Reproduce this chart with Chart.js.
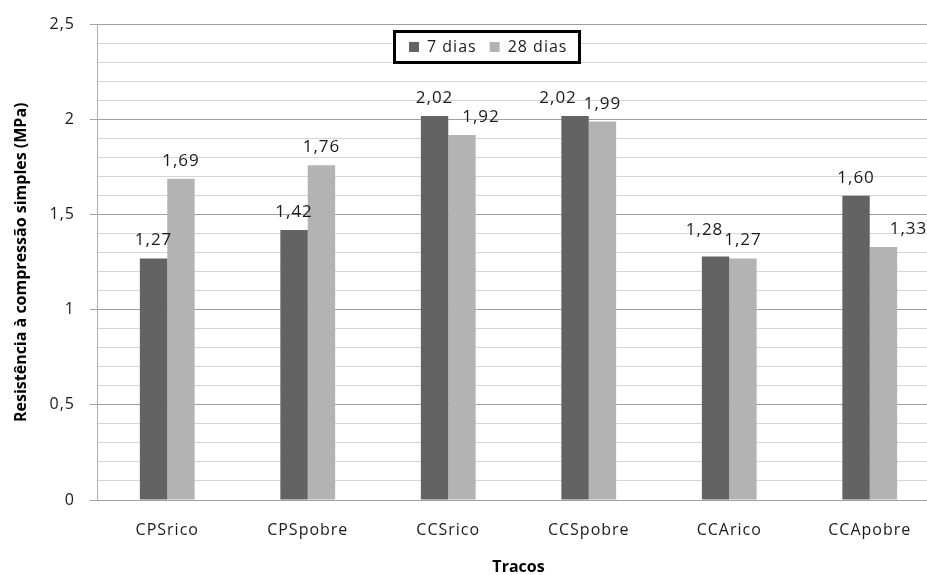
<!DOCTYPE html>
<html lang="pt">
<head>
<meta charset="utf-8">
<title>Resistência à compressão simples</title>
<script src="https://cdn.jsdelivr.net/npm/chart.js@4/dist/chart.umd.min.js"></script>
<style>
  html, body { margin: 0; padding: 0; background: #ffffff; overflow: hidden; }
  #wrap { width: 945px; height: 575px; }
</style>
</head>
<body>
<div id="wrap"><canvas id="grafico" width="945" height="575"></canvas></div>
<script>
// Traços ensaiados e resistências médias (MPa)
const categories = ['CPSrico', 'CPSpobre', 'CCSrico', 'CCSpobre', 'CCArico', 'CCApobre'];
const dias7 = [1.27, 1.42, 2.02, 2.02, 1.28, 1.60];
const dias28 = [1.69, 1.76, 1.92, 1.99, 1.27, 1.33];
const seriesNames = ['7 dias', '28 dias'];
const yMin = 0;
const yMax = 2.5;
const yStep = 0.1;
const yLabelStep = 0.5;
const xTitle = 'Tracos';
const yTitle = 'Resistência à compressão simples (MPa)';

const FONT = "'Open Sans', 'DejaVu Sans', sans-serif";
const isMajor = v => Math.abs(v / yLabelStep - Math.round(v / yLabelStep)) < 1e-6;
const fmtTick = v => String(Math.round(v * 100) / 100).replace('.', ',');
const fmtValue = v => v.toFixed(2).replace('.', ',');

// white background and slightly wider tracking for canvas text
const tracking = {
  id: 'tracking',
  beforeLayout(chart) { chart.ctx.letterSpacing = '1px'; },
  beforeDraw(chart) {
    const c = chart.ctx;
    c.save();
    c.fillStyle = '#ffffff';
    c.fillRect(0, 0, chart.width, chart.height);
    c.restore();
    c.letterSpacing = '1px';
  }
};

// value labels above each bar (nudges keep neighbouring labels apart)
const valueLabels = {
  id: 'valueLabels',
  afterDatasetsDraw(chart, args, opts) {
    const c = chart.ctx;
    c.save();
    c.letterSpacing = '1px';
    c.font = '17px ' + FONT;
    c.fillStyle = '#1a1a1a';
    c.textAlign = 'center';
    c.textBaseline = 'alphabetic';
    chart.data.datasets.forEach((ds, di) => {
      const meta = chart.getDatasetMeta(di);
      meta.data.forEach((bar, i) => {
        const n = (opts.nudges[di] && opts.nudges[di][i]) || [0, 0];
        c.fillText(fmtValue(ds.data[i]), bar.x + n[0], bar.y - 13 + n[1]);
      });
    });
    c.restore();
  }
};

// axis titles in a condensed bold setting
const axisTitles = {
  id: 'axisTitles',
  afterDraw(chart) {
    const c = chart.ctx;
    const a = chart.chartArea;
    c.save();
    c.letterSpacing = '0px';
    c.fillStyle = '#000000';
    c.textAlign = 'center';
    c.textBaseline = 'middle';
    c.font = 'bold 16px ' + FONT;
    c.fillText(xTitle, (a.left + a.right) / 2, 567);
    c.translate(21, (a.top + a.bottom) / 2);
    c.rotate(-Math.PI / 2);
    c.fillText(yTitle, 0, 0);
    c.restore();
  }
};

// boxed legend inside the plot
const boxLegend = {
  id: 'boxLegend',
  afterDraw(chart) {
    const c = chart.ctx;
    c.save();
    c.letterSpacing = '1px';
    const x = 394, y = 31, w = 185, h = 31;
    c.fillStyle = '#ffffff';
    c.fillRect(x, y, w, h);
    c.lineWidth = 3;
    c.strokeStyle = '#000000';
    c.strokeRect(x + 0.5, y + 0.5, w, h);
    c.font = '16px ' + FONT;
    c.textBaseline = 'middle';
    c.textAlign = 'left';
    let cx = 409;
    chart.data.datasets.forEach(ds => {
      c.fillStyle = ds.backgroundColor;
      c.fillRect(cx, 42, 10, 10);
      c.fillStyle = '#1a1a1a';
      c.fillText(ds.label, cx + 18, 47);
      cx += 18 + c.measureText(ds.label).width + 13;
    });
    c.restore();
  }
};

new Chart(document.getElementById('grafico'), {
  type: 'bar',
  data: {
    labels: categories,
    datasets: [
      { label: seriesNames[0], data: dias7, backgroundColor: '#636363' },
      { label: seriesNames[1], data: dias28, backgroundColor: '#b3b3b3' }
    ]
  },
  options: {
    responsive: false,
    animation: false,
    devicePixelRatio: 1,
    layout: { padding: { left: 0, top: 23, right: 5, bottom: 0 } },
    datasets: { bar: { categoryPercentage: 0.39, barPercentage: 1.0, borderWidth: 0 } },
    plugins: {
      legend: { display: false },
      tooltip: { enabled: false },
      valueLabels: {
        nudges: [
          [[0, 0], [0, 0], [0, 0], [-17, 0], [-11, -9], [0, 0]],
          [[0, 0], [0, 0], [19, 0], [0, 0], [0, 0], [25, 0]]
        ]
      }
    },
    scales: {
      x: {
        afterFit(scale) { scale.height = 75; },
        grid: { display: false, drawTicks: false },
        border: { display: true, color: '#a0a0a0', width: 1 },
        ticks: { color: '#1a1a1a', font: { family: FONT, size: 16 }, padding: 21, maxRotation: 0 },
        title: { display: false }
      },
      y: {
        min: yMin, max: yMax,
        afterFit(scale) { scale.width = 97; },
        grid: {
          color: ctx => isMajor(ctx.tick.value) ? '#a0a0a0' : '#d6d6d6',
          tickColor: ctx => isMajor(ctx.tick.value) ? '#a0a0a0' : 'rgba(0,0,0,0)',
          tickLength: 7,
          lineWidth: 1
        },
        border: { display: true, color: '#b0b0b0', width: 1 },
        ticks: {
          stepSize: yStep,
          autoSkip: false,
          padding: 15,
          color: '#1a1a1a',
          font: { family: FONT, size: 16 },
          callback: v => isMajor(v) ? fmtTick(v) : ''
        },
        title: { display: false }
      }
    }
  },
  plugins: [tracking, valueLabels, axisTitles, boxLegend]
});
</script>
</body>
</html>
